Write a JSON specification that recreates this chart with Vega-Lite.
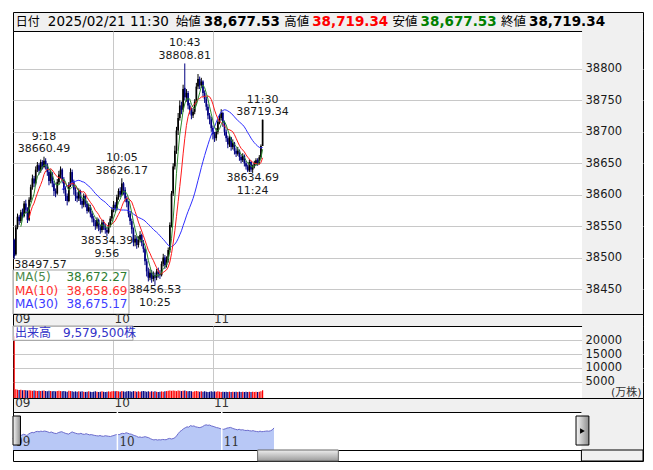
{
"$schema": "https://vega.github.io/schema/vega-lite/v6.json",
"background": "white",
"padding": {"left": 10, "top": 11, "right": 13, "bottom": 10},
"config": {"font": "DejaVu Sans, Noto Sans CJK JP, sans-serif", "view": {"stroke": "#000000", "strokeWidth": 1}},
"spacing": 0,
"bounds": "flush",
"resolve": {"scale": {"x": "independent", "y": "independent", "color": "independent"}, "axis": {"x": "independent", "y": "independent"}},
"datasets": {
"ohlc": [
{"m":0,"o":38528,"h":38530,"l":38497.57,"c":38502,"v":21500},
{"m":1,"o":38505,"h":38552,"l":38503,"c":38548,"v":2300},
{"m":2,"o":38548,"h":38570,"l":38545,"c":38565,"v":2100},
{"m":3,"o":38565,"h":38568,"l":38552,"c":38558,"v":2000},
{"m":4,"o":38558,"h":38576,"l":38555,"c":38572,"v":2100},
{"m":5,"o":38572,"h":38578,"l":38562,"c":38566,"v":1900},
{"m":6,"o":38566,"h":38590,"l":38564,"c":38586,"v":2000},
{"m":7,"o":38586,"h":38592,"l":38570,"c":38576,"v":1900},
{"m":8,"o":38576,"h":38580,"l":38555,"c":38560,"v":1800},
{"m":9,"o":38560,"h":38596,"l":38558,"c":38592,"v":1900},
{"m":10,"o":38592,"h":38616,"l":38588,"c":38612,"v":1800},
{"m":11,"o":38612,"h":38632,"l":38608,"c":38626,"v":1700},
{"m":12,"o":38626,"h":38630,"l":38612,"c":38618,"v":1800},
{"m":13,"o":38618,"h":38645,"l":38615,"c":38640,"v":1700},
{"m":14,"o":38640,"h":38652,"l":38636,"c":38647,"v":1600},
{"m":15,"o":38647,"h":38650,"l":38632,"c":38638,"v":1700},
{"m":16,"o":38638,"h":38656,"l":38635,"c":38652,"v":1600},
{"m":17,"o":38652,"h":38655,"l":38640,"c":38644,"v":1700},
{"m":18,"o":38644,"h":38660.49,"l":38642,"c":38654,"v":1800},
{"m":19,"o":38654,"h":38658,"l":38640,"c":38648,"v":1600},
{"m":20,"o":38648,"h":38650,"l":38630,"c":38636,"v":1500},
{"m":21,"o":38636,"h":38640,"l":38615,"c":38622,"v":1700},
{"m":22,"o":38622,"h":38640,"l":38618,"c":38634,"v":1600},
{"m":23,"o":38634,"h":38636,"l":38612,"c":38618,"v":1500},
{"m":24,"o":38618,"h":38622,"l":38598,"c":38606,"v":1600},
{"m":25,"o":38606,"h":38610,"l":38596,"c":38602,"v":1500},
{"m":26,"o":38602,"h":38625,"l":38600,"c":38620,"v":1600},
{"m":27,"o":38620,"h":38638,"l":38616,"c":38632,"v":1700},
{"m":28,"o":38632,"h":38645,"l":38626,"c":38640,"v":1600},
{"m":29,"o":38640,"h":38642,"l":38618,"c":38624,"v":1500},
{"m":30,"o":38624,"h":38628,"l":38602,"c":38608,"v":1600},
{"m":31,"o":38608,"h":38612,"l":38590,"c":38598,"v":1500},
{"m":32,"o":38598,"h":38602,"l":38583,"c":38590,"v":1400},
{"m":33,"o":38590,"h":38620,"l":38588,"c":38616,"v":1700},
{"m":34,"o":38616,"h":38642,"l":38612,"c":38636,"v":1600},
{"m":35,"o":38636,"h":38640,"l":38614,"c":38620,"v":1500},
{"m":36,"o":38620,"h":38624,"l":38600,"c":38608,"v":1400},
{"m":37,"o":38608,"h":38612,"l":38590,"c":38598,"v":1500},
{"m":38,"o":38598,"h":38604,"l":38588,"c":38594,"v":1400},
{"m":39,"o":38594,"h":38610,"l":38590,"c":38606,"v":1500},
{"m":40,"o":38606,"h":38608,"l":38584,"c":38590,"v":1400},
{"m":41,"o":38590,"h":38594,"l":38578,"c":38584,"v":1500},
{"m":42,"o":38584,"h":38602,"l":38580,"c":38598,"v":1400},
{"m":43,"o":38598,"h":38600,"l":38580,"c":38586,"v":1300},
{"m":44,"o":38586,"h":38590,"l":38570,"c":38574,"v":1400},
{"m":45,"o":38574,"h":38586,"l":38572,"c":38580,"v":1500},
{"m":46,"o":38580,"h":38584,"l":38564,"c":38570,"v":1400},
{"m":47,"o":38570,"h":38574,"l":38556,"c":38562,"v":1300},
{"m":48,"o":38562,"h":38566,"l":38550,"c":38556,"v":1400},
{"m":49,"o":38556,"h":38560,"l":38544,"c":38550,"v":1500},
{"m":50,"o":38550,"h":38564,"l":38546,"c":38560,"v":1400},
{"m":51,"o":38560,"h":38562,"l":38542,"c":38548,"v":1300},
{"m":52,"o":38548,"h":38552,"l":38538,"c":38544,"v":1400},
{"m":53,"o":38544,"h":38560,"l":38540,"c":38556,"v":1500},
{"m":54,"o":38556,"h":38560,"l":38544,"c":38550,"v":1400},
{"m":55,"o":38550,"h":38554,"l":38538,"c":38544,"v":1300},
{"m":56,"o":38544,"h":38548,"l":38534.39,"c":38540,"v":1400},
{"m":57,"o":38540,"h":38556,"l":38538,"c":38552,"v":1500},
{"m":58,"o":38552,"h":38566,"l":38548,"c":38562,"v":1400},
{"m":59,"o":38562,"h":38580,"l":38558,"c":38576,"v":1500},
{"m":60,"o":38576,"h":38590,"l":38572,"c":38584,"v":1600},
{"m":61,"o":38584,"h":38588,"l":38572,"c":38578,"v":1500},
{"m":62,"o":38578,"h":38600,"l":38575,"c":38596,"v":1600},
{"m":63,"o":38596,"h":38610,"l":38592,"c":38606,"v":1500},
{"m":64,"o":38606,"h":38612,"l":38596,"c":38600,"v":1400},
{"m":65,"o":38600,"h":38626.17,"l":38598,"c":38618,"v":1600},
{"m":66,"o":38618,"h":38620,"l":38600,"c":38608,"v":1500},
{"m":67,"o":38608,"h":38612,"l":38588,"c":38594,"v":1400},
{"m":68,"o":38594,"h":38598,"l":38580,"c":38588,"v":1500},
{"m":69,"o":38588,"h":38590,"l":38564,"c":38570,"v":1600},
{"m":70,"o":38570,"h":38574,"l":38552,"c":38558,"v":1500},
{"m":71,"o":38558,"h":38562,"l":38538,"c":38545,"v":1400},
{"m":72,"o":38545,"h":38548,"l":38518,"c":38524,"v":1600},
{"m":73,"o":38524,"h":38536,"l":38518,"c":38530,"v":1500},
{"m":74,"o":38530,"h":38534,"l":38514,"c":38520,"v":1400},
{"m":75,"o":38520,"h":38534,"l":38516,"c":38528,"v":1500},
{"m":76,"o":38528,"h":38542,"l":38524,"c":38536,"v":1400},
{"m":77,"o":38536,"h":38538,"l":38518,"c":38524,"v":1500},
{"m":78,"o":38524,"h":38528,"l":38508,"c":38514,"v":1600},
{"m":79,"o":38514,"h":38516,"l":38488,"c":38494,"v":1500},
{"m":80,"o":38494,"h":38498,"l":38470,"c":38478,"v":1400},
{"m":81,"o":38478,"h":38484,"l":38462,"c":38468,"v":1500},
{"m":82,"o":38468,"h":38482,"l":38464,"c":38476,"v":1400},
{"m":83,"o":38476,"h":38480,"l":38460,"c":38466,"v":1500},
{"m":84,"o":38466,"h":38478,"l":38462,"c":38472,"v":1400},
{"m":85,"o":38472,"h":38476,"l":38456.53,"c":38468,"v":1500},
{"m":86,"o":38468,"h":38482,"l":38464,"c":38478,"v":1400},
{"m":87,"o":38478,"h":38484,"l":38468,"c":38474,"v":1300},
{"m":88,"o":38474,"h":38480,"l":38466,"c":38472,"v":1400},
{"m":89,"o":38472,"h":38494,"l":38470,"c":38490,"v":1500},
{"m":90,"o":38490,"h":38506,"l":38486,"c":38500,"v":1400},
{"m":91,"o":38500,"h":38504,"l":38482,"c":38488,"v":1500},
{"m":92,"o":38488,"h":38502,"l":38484,"c":38496,"v":1600},
{"m":93,"o":38496,"h":38516,"l":38492,"c":38512,"v":1700},
{"m":94,"o":38512,"h":38556,"l":38508,"c":38552,"v":1800},
{"m":95,"o":38552,"h":38606,"l":38548,"c":38602,"v":1700},
{"m":96,"o":38602,"h":38650,"l":38598,"c":38645,"v":1800},
{"m":97,"o":38645,"h":38678,"l":38640,"c":38670,"v":1700},
{"m":98,"o":38670,"h":38708,"l":38665,"c":38702,"v":1600},
{"m":99,"o":38702,"h":38730,"l":38695,"c":38722,"v":1800},
{"m":100,"o":38722,"h":38750,"l":38718,"c":38742,"v":1700},
{"m":101,"o":38742,"h":38748,"l":38728,"c":38735,"v":1600},
{"m":102,"o":38735,"h":38775,"l":38732,"c":38768,"v":1700},
{"m":103,"o":38770,"h":38808.81,"l":38750,"c":38755,"v":1800},
{"m":104,"o":38755,"h":38768,"l":38748,"c":38762,"v":1600},
{"m":105,"o":38762,"h":38765,"l":38736,"c":38742,"v":1500},
{"m":106,"o":38742,"h":38746,"l":38728,"c":38735,"v":1600},
{"m":107,"o":38735,"h":38738,"l":38720,"c":38726,"v":1500},
{"m":108,"o":38726,"h":38738,"l":38722,"c":38732,"v":1400},
{"m":109,"o":38732,"h":38752,"l":38728,"c":38748,"v":1500},
{"m":110,"o":38748,"h":38778,"l":38745,"c":38772,"v":1600},
{"m":111,"o":38772,"h":38792,"l":38768,"c":38784,"v":1500},
{"m":112,"o":38784,"h":38788,"l":38768,"c":38774,"v":1400},
{"m":113,"o":38774,"h":38786,"l":38770,"c":38780,"v":1500},
{"m":114,"o":38780,"h":38782,"l":38756,"c":38762,"v":1400},
{"m":115,"o":38762,"h":38766,"l":38746,"c":38752,"v":1500},
{"m":116,"o":38752,"h":38756,"l":38734,"c":38740,"v":1400},
{"m":117,"o":38740,"h":38744,"l":38720,"c":38726,"v":1300},
{"m":118,"o":38726,"h":38730,"l":38712,"c":38720,"v":1400},
{"m":119,"o":38720,"h":38724,"l":38700,"c":38706,"v":1500},
{"m":120,"o":38706,"h":38710,"l":38688,"c":38696,"v":1400},
{"m":121,"o":38696,"h":38700,"l":38684,"c":38690,"v":1500},
{"m":122,"o":38690,"h":38706,"l":38686,"c":38700,"v":1400},
{"m":123,"o":38700,"h":38720,"l":38696,"c":38716,"v":1500},
{"m":124,"o":38716,"h":38728,"l":38712,"c":38722,"v":1400},
{"m":125,"o":38722,"h":38736,"l":38718,"c":38730,"v":1300},
{"m":126,"o":38730,"h":38732,"l":38708,"c":38714,"v":1400},
{"m":127,"o":38714,"h":38718,"l":38694,"c":38700,"v":1300},
{"m":128,"o":38700,"h":38704,"l":38684,"c":38690,"v":1400},
{"m":129,"o":38690,"h":38694,"l":38674,"c":38680,"v":1300},
{"m":130,"o":38680,"h":38694,"l":38676,"c":38691.2,"v":1400},
{"m":131,"o":38691.2,"h":38692,"l":38670,"c":38676,"v":1300},
{"m":132,"o":38676,"h":38688,"l":38672,"c":38682,"v":1400},
{"m":133,"o":38682,"h":38684,"l":38664,"c":38670,"v":1300},
{"m":134,"o":38670,"h":38674,"l":38660,"c":38665,"v":1400},
{"m":135,"o":38665,"h":38676,"l":38662,"c":38670,"v":1300},
{"m":136,"o":38670,"h":38672,"l":38654,"c":38660,"v":1400},
{"m":137,"o":38660,"h":38664,"l":38650,"c":38655,"v":1300},
{"m":138,"o":38655,"h":38666,"l":38652,"c":38662,"v":1400},
{"m":139,"o":38662,"h":38664,"l":38645,"c":38650,"v":1300},
{"m":140,"o":38650,"h":38654,"l":38640,"c":38645,"v":1400},
{"m":141,"o":38645,"h":38648,"l":38636,"c":38638.5,"v":1300},
{"m":142,"o":38638.5,"h":38656,"l":38636,"c":38652,"v":1400},
{"m":143,"o":38652,"h":38654,"l":38636,"c":38640,"v":1300},
{"m":144,"o":38640,"h":38648,"l":38634.69,"c":38645,"v":1400},
{"m":145,"o":38645,"h":38654,"l":38642,"c":38650,"v":1300},
{"m":146,"o":38650,"h":38658,"l":38646,"c":38655,"v":1400},
{"m":147,"o":38655,"h":38658,"l":38646,"c":38650,"v":1300},
{"m":148,"o":38650,"h":38663,"l":38648,"c":38659.5,"v":1400},
{"m":149,"o":38659.5,"h":38680,"l":38657,"c":38677.53,"v":1500},
{"m":150,"o":38677.53,"h":38719.34,"l":38677.53,"c":38719.34,"v":1900}
],
"ann": [
{"m":18,"p":38660.49,"t":"9:18","v":"38660.49","s":"hi"},
{"m":65,"p":38626.17,"t":"10:05","v":"38626.17","s":"hi"},
{"m":103,"p":38808.81,"t":"10:43","v":"38808.81","s":"hi"},
{"m":150,"p":38719.34,"t":"11:30","v":"38719.34","s":"hi"},
{"m":56,"p":38534.39,"t":"9:56","v":"38534.39","s":"lo"},
{"m":85,"p":38456.53,"t":"10:25","v":"38456.53","s":"lo"},
{"m":144,"p":38634.69,"t":"11:24","v":"38634.69","s":"lo"},
{"m":0,"p":38497.57,"t":"9:00","v":"38497.57","s":"first"}
],
"hours": [
{"m":0,"h":"09"},{"m":60,"h":"10"},{"m":120,"h":"11"}
]
},
"vconcat": [
{
"width": 630, "height": 19,
"view": {"fill": "#f0f0f0", "stroke": "#000000"},
"data": {"values": [
{"k":"始値","v":"38,677.53","t":"plain"},
{"k":"高値","v":"38,719.34","t":"up"},
{"k":"安値","v":"38,677.53","t":"down"},
{"k":"終値","v":"38,719.34","t":"plain"}
]},
"layer": [
{"mark": {"type": "text", "align": "left", "baseline": "middle", "fontSize": 12.5, "color": "#000000"},
 "encoding": {"x": {"field": "k", "type": "nominal", "sort": null, "bandPosition": 0, "axis": null, "scale": {"type": "band", "domain": ["始値","高値","安値","終値"], "paddingInner": 0, "paddingOuter": 0.906, "align": 0.829}}, "text": {"field": "k"}}},
{"mark": {"type": "text", "align": "left", "baseline": "middle", "fontSize": 13.5, "fontWeight": "bold", "dx": 28},
 "encoding": {"x": {"field": "k", "type": "nominal", "sort": null, "bandPosition": 0, "axis": null}, "text": {"field": "v"},
  "color": {"field": "t", "type": "nominal", "scale": {"domain": ["plain","up","down"], "range": ["#000000","#ff0000","#008000"]}, "legend": null}}},
{"transform": [{"filter": "datum.k === '始値'"}],
 "mark": {"type": "text", "align": "right", "baseline": "middle", "fontSize": 13.5, "dx": -7, "color": "#000000", "text": "2025/02/21 11:30"},
 "encoding": {"x": {"field": "k", "type": "nominal", "sort": null, "bandPosition": 0, "axis": null}}},
{"transform": [{"filter": "datum.k === '始値'"}],
 "mark": {"type": "text", "align": "left", "baseline": "middle", "fontSize": 12, "dx": -160, "color": "#000000", "text": "日付"},
 "encoding": {"x": {"field": "k", "type": "nominal", "sort": null, "bandPosition": 0, "axis": null}}}
]
},
{
"width": 630, "height": 283,
"data": {"name": "ohlc"},
"resolve": {"axis": {"x": "independent", "y": "independent"}},
"layer": [
{"data": {"values": [{}]},
 "mark": {"type": "rect", "color": "#f0f0f0"},
 "encoding": {
  "x": {"datum": 342.9, "type": "quantitative", "scale": {"domain": [-0.72, 379.7], "nice": false, "zero": false},
        "axis": {"values": [59.7, 120], "grid": true, "gridColor": "#c8c8c8", "labels": false, "ticks": false, "domain": false, "title": null, "zindex": 0}},
  "x2": {"datum": 379.7},
  "y": {"datum": 38410.25, "type": "quantitative", "scale": {"domain": [38410.25, 38860.45], "nice": false, "zero": false},
        "axis": {"orient": "left", "values": [38450,38500,38550,38600,38650,38700,38750,38800], "grid": true, "gridColor": "#c8c8c8", "labels": false, "ticks": false, "domain": false, "title": null, "zindex": 0}},
  "y2": {"datum": 38860.45}}},
{"mark": {"type": "rule", "strokeWidth": 1},
 "encoding": {
  "x": {"field": "m", "type": "quantitative", "axis": null},
  "y": {"field": "l", "type": "quantitative",
        "axis": {"orient": "right", "values": [38450,38500,38550,38600,38650,38700,38750,38800], "format": "d", "grid": false, "ticks": false, "domain": false, "labelPadding": -58, "labelAlign": "left", "labelBaseline": "middle", "labelFontSize": 11.5, "labelColor": "#1a1a1a", "title": null, "zindex": 1}},
  "y2": {"field": "h"},
  "color": {"condition": {"test": "datum.c >= datum.o", "value": "#000000"}, "value": "#000080"}}},
{"mark": {"type": "rule", "strokeWidth": 1.7},
 "encoding": {
  "x": {"field": "m", "type": "quantitative", "axis": null},
  "y": {"field": "o", "type": "quantitative", "axis": null},
  "y2": {"field": "c"},
  "color": {"condition": {"test": "datum.c >= datum.o", "value": "#000000"}, "value": "#000080"}}},
{"transform": [{"window": [{"op": "mean", "field": "c", "as": "ma"}, {"op": "count", "as": "n"}], "frame": [-29, 0], "sort": [{"field": "m", "order": "ascending"}]}, {"filter": "datum.n >= 30"}],
 "mark": {"type": "line", "color": "#2f2fff", "strokeWidth": 1},
 "encoding": {"x": {"field": "m", "type": "quantitative", "axis": null}, "y": {"field": "ma", "type": "quantitative", "axis": null}}},
{"transform": [{"window": [{"op": "mean", "field": "c", "as": "ma"}, {"op": "count", "as": "n"}], "frame": [-9, 0], "sort": [{"field": "m", "order": "ascending"}]}, {"filter": "datum.n >= 10"}],
 "mark": {"type": "line", "color": "#ff1a1a", "strokeWidth": 1},
 "encoding": {"x": {"field": "m", "type": "quantitative", "axis": null}, "y": {"field": "ma", "type": "quantitative", "axis": null}}},
{"transform": [{"window": [{"op": "mean", "field": "c", "as": "ma"}, {"op": "count", "as": "n"}], "frame": [-4, 0], "sort": [{"field": "m", "order": "ascending"}]}, {"filter": "datum.n >= 5"}],
 "mark": {"type": "line", "color": "#2e8b2e", "strokeWidth": 1},
 "encoding": {"x": {"field": "m", "type": "quantitative", "axis": null}, "y": {"field": "ma", "type": "quantitative", "axis": null}}},
{"data": {"name": "ann"}, "transform": [{"filter": "datum.s === 'hi'"}],
 "mark": {"type": "text", "align": "center", "baseline": "middle", "fontSize": 11, "color": "#1a1a1a", "dy": -20},
 "encoding": {"x": {"field": "m", "type": "quantitative", "axis": null}, "y": {"field": "p", "type": "quantitative", "axis": null}, "text": {"field": "t"}}},
{"data": {"name": "ann"}, "transform": [{"filter": "datum.s === 'hi'"}],
 "mark": {"type": "text", "align": "center", "baseline": "middle", "fontSize": 11, "color": "#1a1a1a", "dy": -7.5},
 "encoding": {"x": {"field": "m", "type": "quantitative", "axis": null}, "y": {"field": "p", "type": "quantitative", "axis": null}, "text": {"field": "v"}}},
{"data": {"name": "ann"}, "transform": [{"filter": "datum.s === 'lo'"}],
 "mark": {"type": "text", "align": "center", "baseline": "middle", "fontSize": 11, "color": "#1a1a1a", "dy": 5.5},
 "encoding": {"x": {"field": "m", "type": "quantitative", "axis": null}, "y": {"field": "p", "type": "quantitative", "axis": null}, "text": {"field": "v"}}},
{"data": {"name": "ann"}, "transform": [{"filter": "datum.s === 'lo'"}],
 "mark": {"type": "text", "align": "center", "baseline": "middle", "fontSize": 11, "color": "#1a1a1a", "dy": 18},
 "encoding": {"x": {"field": "m", "type": "quantitative", "axis": null}, "y": {"field": "p", "type": "quantitative", "axis": null}, "text": {"field": "t"}}},
{"data": {"name": "ann"}, "transform": [{"filter": "datum.s === 'first'"}],
 "mark": {"type": "text", "align": "left", "baseline": "middle", "fontSize": 11, "color": "#1a1a1a", "dy": 6},
 "encoding": {"x": {"field": "m", "type": "quantitative", "axis": null}, "y": {"field": "p", "type": "quantitative", "axis": null}, "text": {"field": "v"}}},
{"data": {"values": [{}]},
 "mark": {"type": "rect", "fill": "#ffffff", "fillOpacity": 0.8, "stroke": "#a0a0a0", "strokeWidth": 1},
 "encoding": {"x": {"datum": -0.72, "axis": null}, "x2": {"datum": 69.3}, "y": {"datum": 38410.25, "axis": null}, "y2": {"datum": 38480.25}}},
{"data": {"values": [{}]}, "mark": {"type": "text", "align": "left", "baseline": "middle", "fontSize": 12, "color": "#4a8a4a", "text": "MA(5)"},
 "encoding": {"x": {"datum": 0.49, "axis": null}, "y": {"datum": 38469.6, "axis": null}}},
{"data": {"values": [{}]}, "mark": {"type": "text", "align": "right", "baseline": "middle", "fontSize": 12, "color": "#2e7d32", "text": "38,672.27"},
 "encoding": {"x": {"datum": 68.4, "axis": null}, "y": {"datum": 38469.6, "axis": null}}},
{"data": {"values": [{}]}, "mark": {"type": "text", "align": "left", "baseline": "middle", "fontSize": 12, "color": "#ff3030", "text": "MA(10)"},
 "encoding": {"x": {"datum": 0.49, "axis": null}, "y": {"datum": 38447.6, "axis": null}}},
{"data": {"values": [{}]}, "mark": {"type": "text", "align": "right", "baseline": "middle", "fontSize": 12, "color": "#ff3030", "text": "38,658.69"},
 "encoding": {"x": {"datum": 68.4, "axis": null}, "y": {"datum": 38447.6, "axis": null}}},
{"data": {"values": [{}]}, "mark": {"type": "text", "align": "left", "baseline": "middle", "fontSize": 12, "color": "#3c3cff", "text": "MA(30)"},
 "encoding": {"x": {"datum": 0.49, "axis": null}, "y": {"datum": 38425.7, "axis": null}}},
{"data": {"values": [{}]}, "mark": {"type": "text", "align": "right", "baseline": "middle", "fontSize": 12, "color": "#3c3cff", "text": "38,675.17"},
 "encoding": {"x": {"datum": 68.4, "axis": null}, "y": {"datum": 38425.7, "axis": null}}}
]
},
{
"width": 630, "height": 12,
"view": {"fill": "#f0f0f0", "stroke": "#000000"},
"data": {"name": "hours"},
"mark": {"type": "text", "align": "left", "baseline": "middle", "fontSize": 12, "color": "#333333", "dx": 1, "dy": -1.5},
"encoding": {"x": {"field": "m", "type": "quantitative", "scale": {"domain": [-0.72, 379.7], "nice": false, "zero": false}, "axis": null}, "text": {"field": "h"}}
},
{
"width": 630, "height": 72,
"data": {"name": "ohlc"},
"resolve": {"axis": {"x": "independent", "y": "independent"}},
"layer": [
{"data": {"values": [{}]},
 "mark": {"type": "rect", "color": "#f0f0f0"},
 "encoding": {
  "x": {"datum": 342.9, "type": "quantitative", "scale": {"domain": [-0.72, 379.7], "nice": false, "zero": false},
        "axis": {"values": [59.7, 120], "grid": true, "gridColor": "#c8c8c8", "labels": false, "ticks": false, "domain": false, "title": null, "zindex": 0}},
  "x2": {"datum": 379.7},
  "y": {"datum": -906, "type": "quantitative", "scale": {"domain": [-906, 25181], "nice": false, "zero": false},
        "axis": {"orient": "left", "values": [5000,10000,15000,20000], "grid": true, "gridColor": "#c8c8c8", "labels": false, "ticks": false, "domain": false, "title": null, "zindex": 0}},
  "y2": {"datum": 25181}}},
{"mark": {"type": "rule", "strokeWidth": 1.2},
 "encoding": {
  "x": {"field": "m", "type": "quantitative", "axis": null},
  "y": {"field": "v", "type": "quantitative",
        "axis": {"orient": "right", "values": [5000,10000,15000,20000], "format": "d", "grid": false, "ticks": false, "domain": false, "labelPadding": -58, "labelAlign": "left", "labelBaseline": "middle", "labelFontSize": 11.5, "labelColor": "#1a1a1a",
                 "title": "(万株)", "titleAngle": 0, "titleAlign": "right", "titleBaseline": "middle", "titleX": -2, "titleY": 66, "titleFontSize": 11, "titleFontWeight": "normal", "titleColor": "#333333", "zindex": 1}},
  "y2": {"datum": -906},
  "color": {"condition": {"test": "datum.c >= datum.o || datum.m === 0", "value": "#ff0000"}, "value": "#000080"}}},
{"data": {"values": [{}]},
 "mark": {"type": "rect", "fill": "#ffffff", "fillOpacity": 0.8, "stroke": "#a0a0a0", "strokeWidth": 1},
 "encoding": {"x": {"datum": -0.72, "axis": null}, "x2": {"datum": 71.7}, "y": {"datum": 20000, "axis": null}, "y2": {"datum": 25181}}},
{"data": {"values": [{}]}, "mark": {"type": "text", "align": "left", "baseline": "middle", "fontSize": 12, "color": "#3232c8", "text": "出来高　9,579,500株"},
 "encoding": {"x": {"datum": 0.49, "axis": null}, "y": {"datum": 22645, "axis": null}}}
]
},
{
"width": 630, "height": 14,
"view": {"fill": "#f0f0f0", "stroke": "#000000"},
"data": {"name": "hours"},
"mark": {"type": "text", "align": "left", "baseline": "middle", "fontSize": 12, "color": "#333333", "dx": 1, "dy": -2},
"encoding": {"x": {"field": "m", "type": "quantitative", "scale": {"domain": [-0.72, 379.7], "nice": false, "zero": false}, "axis": null}, "text": {"field": "h"}}
},
{
"width": 630, "height": 38,
"data": {"name": "ohlc"},
"layer": [
{"data": {"values": [{}]},
 "mark": {"type": "rect", "color": "#f0f0f0"},
 "encoding": {
  "x": {"datum": 326.7, "type": "quantitative", "scale": {"domain": [0, 362.1], "nice": false, "zero": false}, "axis": null},
  "x2": {"datum": 362.1},
  "y": {"datum": 38257, "type": "quantitative", "scale": {"domain": [38257, 39053], "nice": false, "zero": false}, "axis": null},
  "y2": {"datum": 39053}}},
{"mark": {"type": "area", "color": "#b8c8f6", "opacity": 1, "line": {"color": "#6b6bcc", "strokeWidth": 1}},
 "encoding": {"x": {"field": "m", "type": "quantitative", "axis": null}, "y": {"field": "c", "type": "quantitative", "axis": null}, "y2": {"datum": 38257}}},
{"data": {"name": "hours"}, "transform": [{"filter": "datum.m > 0"}],
 "mark": {"type": "rule", "color": "#ffffff", "strokeWidth": 1.5},
 "encoding": {"x": {"field": "m", "type": "quantitative", "axis": null}}},
{"data": {"name": "hours"},
 "mark": {"type": "text", "align": "left", "baseline": "middle", "font": "DejaVu Serif", "fontSize": 12, "color": "#333333", "dx": 2},
 "encoding": {"x": {"field": "m", "type": "quantitative", "axis": null}, "y": {"datum": 38430, "axis": null}, "text": {"field": "h"}}},
{"data": {"values": [{}]},
 "mark": {"type": "rect", "stroke": "#000000", "strokeWidth": 1, "fill": {"gradient": "linear", "x1": 0, "y1": 0, "x2": 1, "y2": 0, "stops": [{"offset": 0, "color": "#f8f8f8"}, {"offset": 1, "color": "#8c8c8c"}]}},
 "encoding": {"x": {"datum": 0, "axis": null}, "x2": {"datum": 4.3}, "y": {"datum": 38361, "axis": null}, "y2": {"datum": 38969}}},
{"data": {"values": [{}]},
 "mark": {"type": "rect", "stroke": "#000000", "strokeWidth": 1, "fill": {"gradient": "linear", "x1": 0, "y1": 0, "x2": 1, "y2": 0, "stops": [{"offset": 0, "color": "#f8f8f8"}, {"offset": 1, "color": "#8c8c8c"}]}},
 "encoding": {"x": {"datum": 323.6, "axis": null}, "x2": {"datum": 331.0}, "y": {"datum": 38361, "axis": null}, "y2": {"datum": 38969}}},
{"data": {"values": [{}]},
 "mark": {"type": "point", "shape": "triangle-right", "filled": true, "color": "#000000", "size": 30, "opacity": 1},
 "encoding": {"x": {"datum": 327.3, "axis": null}, "y": {"datum": 38655, "axis": null}}}
]
},
{
"width": 630, "height": 11,
"data": {"values": [{}]},
"layer": [
{"mark": {"type": "rect", "color": "#f0f0f0", "stroke": "#000000", "strokeWidth": 1},
 "encoding": {
  "x": {"datum": 326.7, "type": "quantitative", "scale": {"domain": [0, 362.1], "nice": false, "zero": false}, "axis": null},
  "x2": {"datum": 362.1},
  "y": {"datum": 0, "type": "quantitative", "scale": {"domain": [0, 1], "nice": false, "zero": false}, "axis": null},
  "y2": {"datum": 1}}},
{"mark": {"type": "rect", "stroke": "#666666", "strokeWidth": 1, "fill": {"gradient": "linear", "x1": 0, "y1": 0, "x2": 0, "y2": 1, "stops": [{"offset": 0, "color": "#eeeeee"}, {"offset": 1, "color": "#9a9a9a"}]}},
 "encoding": {"x": {"datum": 140.6, "axis": null}, "x2": {"datum": 187.0}, "y": {"datum": 0, "axis": null}, "y2": {"datum": 1}}}
]
}
]
}
